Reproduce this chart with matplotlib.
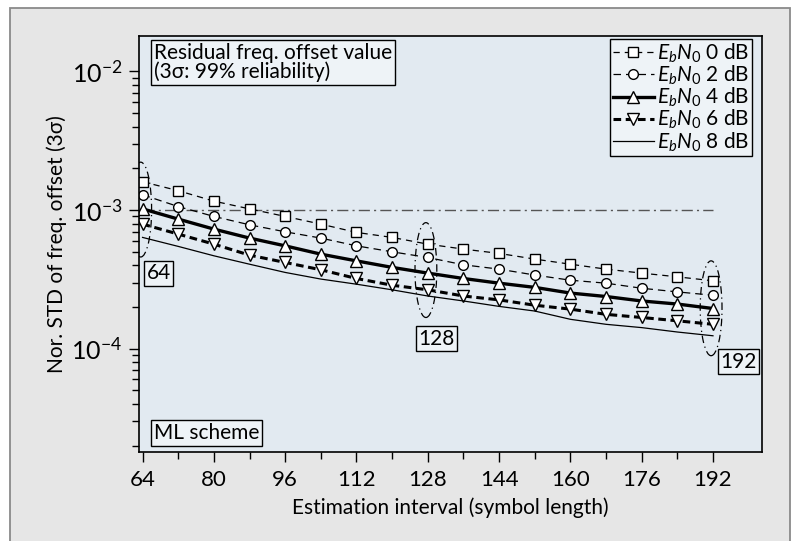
import numpy as np
import matplotlib
matplotlib.use("Agg")
import matplotlib.pyplot as plt
from matplotlib.patches import Rectangle, Ellipse
from matplotlib.ticker import FixedLocator

# Estimation interval (symbol length)
interval = [64, 72, 80, 88, 96, 104, 112, 120, 128, 136, 144, 152, 160, 168, 176, 184, 192]

# Normalized STD of frequency offset (3 sigma)
std_0db = [1.60e-3, 1.38e-3, 1.16e-3, 1.02e-3, 9.0e-4, 7.92e-4, 6.90e-4, 6.35e-4, 5.68e-4,
           5.23e-4, 4.87e-4, 4.43e-4, 4.07e-4, 3.75e-4, 3.51e-4, 3.30e-4, 3.09e-4]
std_2db = [1.29e-3, 1.06e-3, 9.0e-4, 7.83e-4, 6.97e-4, 6.28e-4, 5.52e-4, 5.0e-4, 4.55e-4,
           4.03e-4, 3.75e-4, 3.40e-4, 3.12e-4, 2.97e-4, 2.73e-4, 2.57e-4, 2.43e-4]
std_4db = [1.02e-3, 8.61e-4, 7.29e-4, 6.28e-4, 5.52e-4, 4.81e-4, 4.30e-4, 3.86e-4, 3.51e-4,
           3.21e-4, 2.97e-4, 2.77e-4, 2.52e-4, 2.38e-4, 2.21e-4, 2.10e-4, 1.95e-4]
std_6db = [7.92e-4, 6.71e-4, 5.68e-4, 4.73e-4, 4.19e-4, 3.71e-4, 3.21e-4, 2.87e-4, 2.66e-4,
           2.40e-4, 2.25e-4, 2.06e-4, 1.93e-4, 1.77e-4, 1.68e-4, 1.59e-4, 1.50e-4]
std_8db = [6.35e-4, 5.47e-4, 4.68e-4, 4.07e-4, 3.55e-4, 3.18e-4, 2.92e-4, 2.66e-4, 2.40e-4,
           2.21e-4, 2.02e-4, 1.87e-4, 1.63e-4, 1.50e-4, 1.42e-4, 1.32e-4, 1.24e-4]

labels = ["$E_bN_0$ 0 dB", "$E_bN_0$ 2 dB", "$E_bN_0$ 4 dB", "$E_bN_0$ 6 dB", "$E_bN_0$ 8 dB"]
target = 1e-3
marked_intervals = [64, 128, 192]

plt.rcParams["font.family"] = ["Lato", "DejaVu Sans"]
plt.rcParams["mathtext.fontset"] = "custom"
plt.rcParams["mathtext.rm"] = "Lato"
plt.rcParams["mathtext.it"] = "Lato:italic"
plt.rcParams["font.size"] = 15

fig = plt.figure(figsize=(7.97, 5.41), dpi=100, facecolor="white")
fig.patches.append(Rectangle((10 / 797, -0.02), 780 / 797, 1.02 - 8 / 541,
                             transform=fig.transFigure, facecolor="#e6e6e6",
                             edgecolor="#8a8a8a", lw=1.3, zorder=-5))

ax = fig.add_axes([139 / 797, 1 - 452 / 541, 623 / 797, 416 / 541])
ax.set_facecolor("#e2eaf1")
ax.set_yscale("log")
ax.set_xlim(63.2, 203)
ax.set_ylim(1.8e-5, 1.8e-2)

mk = dict(markerfacecolor="white", markeredgecolor="black", markeredgewidth=1.0)
ax.plot(interval, std_0db, color="black", lw=0.9, ls=(0, (5, 4)), marker="s", ms=7, label=labels[0], **mk)
ax.plot(interval, std_2db, color="black", lw=0.9, ls=(0, (6, 4)), marker="o", ms=7, label=labels[1], **mk)
ax.plot(interval, std_4db, color="black", lw=2.4, ls="-", marker="^", ms=8, label=labels[2], **mk)
ax.plot(interval, std_6db, color="black", lw=2.2, ls=(0, (2.5, 1.5)), marker="v", ms=8, label=labels[3], **mk)
ax.plot(interval, std_8db, color="black", lw=0.9, ls="-", label=labels[4])

# 1e-3 residual offset reference
ax.plot([interval[0], interval[-1]], [target, target], color="#555555", lw=1.0,
        ls=(0, (8, 3, 1.5, 3)), zorder=1)

# dash-dot ellipses around the marked intervals
all_series = np.array([std_0db, std_2db, std_4db, std_6db, std_8db])
to_axes = ax.transData + ax.transAxes.inverted()
label_pos = {64: (0.012, 0.43), 128: (0.448, 0.272), 192: (0.933, 0.217)}
for xv in marked_intervals:
    col = all_series[:, interval.index(xv)]
    yc = np.exp(np.mean(np.log([col.max(), col.min()])))
    cx, cy = to_axes.transform((xv, yc))
    ax.add_patch(Ellipse((cx - 0.003, cy), 0.035, 0.228, transform=ax.transAxes, fill=False,
                         edgecolor="black", lw=0.9, ls=(0, (6, 3, 1, 3)), zorder=4))
    lx, ly = label_pos[xv]
    ax.text(lx, ly, str(xv), transform=ax.transAxes, ha="left", va="center", fontsize=15,
            bbox=dict(boxstyle="square,pad=0.12", facecolor="#eef3f7", edgecolor="black", lw=1.0),
            zorder=5)

ax.text(0.024, 0.983, "Residual freq. offset value\n(3σ: 99% reliability)", transform=ax.transAxes,
        ha="left", va="top", fontsize=15, linespacing=0.9,
        bbox=dict(boxstyle="square,pad=0.15", facecolor="#eef3f7", edgecolor="black", lw=1.0))
ax.text(0.024, 0.022, "ML scheme", transform=ax.transAxes, ha="left", va="bottom", fontsize=15,
        bbox=dict(boxstyle="square,pad=0.15", facecolor="#eef3f7", edgecolor="black", lw=1.0))

leg = ax.legend(loc="upper right", bbox_to_anchor=(0.984, 0.993), borderaxespad=0,
                fancybox=False, edgecolor="black", facecolor="#eef3f7", framealpha=1,
                handlelength=2.0, handletextpad=0.15, labelspacing=-0.05, borderpad=0.12,
                fontsize=15)
leg.get_frame().set_linewidth(1.0)

ax.set_xticks(interval[::2])
ax.xaxis.set_minor_locator(FixedLocator(interval[1::2]))
ax.tick_params(axis="both", which="major", direction="out", length=7, width=1)
ax.tick_params(axis="both", which="minor", direction="out", length=5, width=1)
ax.tick_params(axis="x", labelsize=16, pad=6)
ax.tick_params(axis="y", labelsize=18, pad=5)

ax.set_xlabel("Estimation interval (symbol length)", fontsize=15, labelpad=5)
ax.set_ylabel("Nor. STD of freq. offset (3σ)", fontsize=15, labelpad=3)

for s in ax.spines.values():
    s.set_linewidth(1.2)

fig.savefig("out.png", dpi=100)
